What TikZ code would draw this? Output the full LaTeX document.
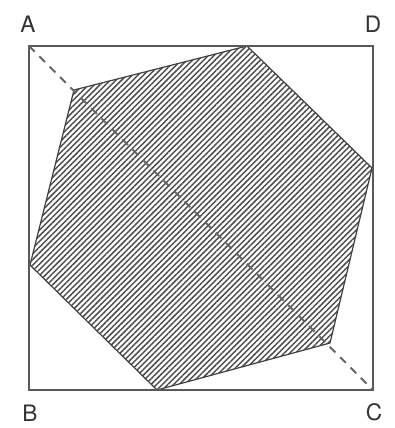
\documentclass[tikz,border=0pt]{standalone}
\usepackage{fontspec}
\setsansfont{TeX Gyre Heros}
\usepackage{tikz}
\usetikzlibrary{patterns.meta}

\begin{document}
\begin{tikzpicture}[
  x=0.75pt, y=-0.75pt,
  frame/.style={draw=black!65, line width=1.3pt},
  hexface/.style={draw=black!75, line width=0.9pt, line join=round,
    pattern={Lines[angle=45, distance=3pt, line width=1.1pt]}, pattern color=black!70},
  diag/.style={draw=black!60, line width=1.5pt, dash pattern=on 6pt off 5pt},
  corner/.style={font=\fontsize{17}{19}\selectfont\sffamily, text=black!80, inner sep=0pt},
]
\useasboundingbox (0,0) rectangle (395,428);

% square corners
\coordinate (A) at (29,46);
\coordinate (D) at (373,46);
\coordinate (C) at (373,390);
\coordinate (B) at (29,390);

% hexagon vertices
\coordinate (h1) at (74,90);
\coordinate (h2) at (247,46);
\coordinate (h3) at (372,168);
\coordinate (h4) at (330,343);
\coordinate (h5) at (157,390);
\coordinate (h6) at (30,265);

\draw[hexface] (h1) -- (h2) -- (h3) -- (h4) -- (h5) -- (h6) -- cycle;
\draw[frame] (A) -- (D) -- (C) -- (B) -- cycle;
\draw[diag] (A) -- (C);

% labels
\node[corner] (lA) at (28,24) {A};
\node[corner] (lD) at (373,24) {D};
\node[corner] (lB) at (30,413) {B};
\node[corner] (lC) at (374,412) {C};

\end{tikzpicture}
\end{document}
